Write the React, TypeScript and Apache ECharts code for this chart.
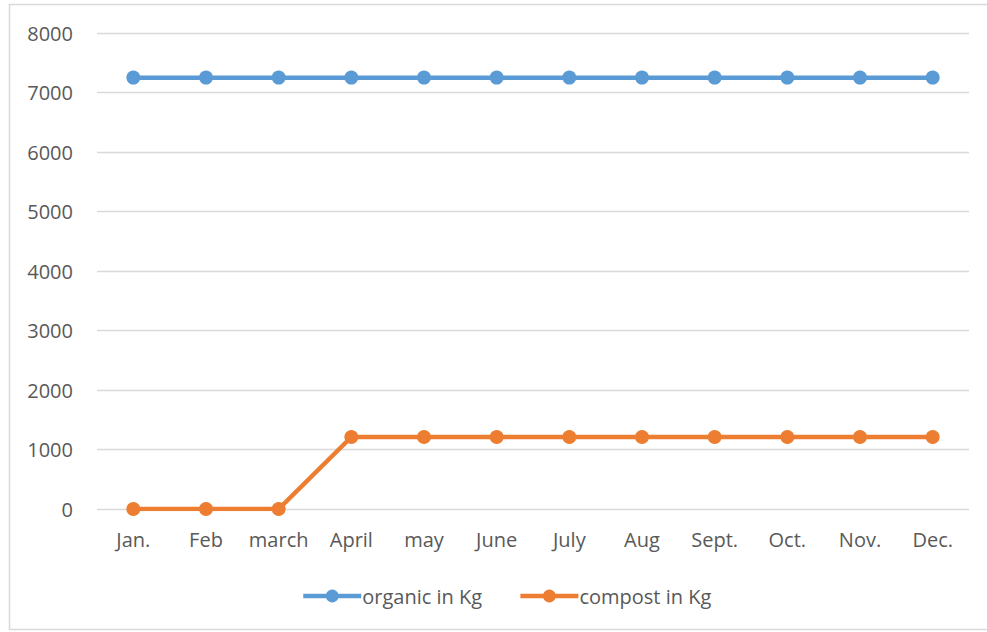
import React, { useEffect, useRef } from "react";
import * as echarts from "echarts";

const months = ["Jan.", "Feb", "march", "April", "may", "June", "July", "Aug", "Sept.", "Oct.", "Nov.", "Dec."];
const organic = [7250, 7250, 7250, 7250, 7250, 7250, 7250, 7250, 7250, 7250, 7250, 7250];
const compost = [0, 0, 0, 1210, 1210, 1210, 1210, 1210, 1210, 1210, 1210, 1210];
const seriesNames = ["organic in Kg", "compost in Kg"];

const FONT = "'Open Sans', 'Noto Sans', sans-serif";
const TEXT = "#595959";

export default function App() {
  const ref = useRef<HTMLDivElement>(null);
  useEffect(() => {
    if (!ref.current) return;
    const chart = echarts.init(ref.current, undefined, { renderer: "svg" });
    chart.setOption({
      animation: false,
      backgroundColor: "#ffffff",
      graphic: [
        {
          type: "rect",
          shape: { x: 9.5, y: 4.5, width: 1000, height: 625 },
          style: { fill: "none", stroke: "#D9D9D9", lineWidth: 1.5 },
          silent: true,
        },
      ],
      grid: { left: 97, right: 18, top: 33, bottom: 123 },
      xAxis: {
        type: "category",
        data: months,
        boundaryGap: true,
        axisLine: { show: false },
        axisTick: { show: false },
        axisLabel: { color: TEXT, fontFamily: FONT, fontSize: 20, margin: 20, interval: 0 },
      },
      yAxis: {
        type: "value",
        min: 0,
        max: 8000,
        interval: 1000,
        axisLine: { show: false },
        axisTick: { show: false },
        axisLabel: {
          color: TEXT,
          fontFamily: FONT,
          fontSize: 20,
          margin: 24,
          formatter: (v: number) => String(v),
        },
        splitLine: { lineStyle: { color: "#D9D9D9", width: 1.3 } },
      },
      legend: {
        bottom: 21,
        left: 296,
        padding: 5,
        itemWidth: 58,
        itemHeight: 16,
        itemGap: 36,
        lineStyle: { width: 4.5 },
        textStyle: { color: TEXT, fontFamily: FONT, fontSize: 20, padding: [0, 0, 0, -4] },
        data: seriesNames,
      },
      series: [
        {
          name: seriesNames[0],
          type: "line",
          data: organic,
          color: "#5B9BD5",
          symbol: "circle",
          symbolSize: 14,
          lineStyle: { width: 4.5, color: "#5B9BD5" },
          itemStyle: { color: "#5B9BD5" },
        },
        {
          name: seriesNames[1],
          type: "line",
          data: compost,
          color: "#ED7D31",
          symbol: "circle",
          symbolSize: 14,
          lineStyle: { width: 4.5, color: "#ED7D31" },
          itemStyle: { color: "#ED7D31" },
        },
      ],
    });
    return () => chart.dispose();
  }, []);
  return (
    <div
      ref={ref}
      style={{ position: "fixed", left: 0, top: 0, width: 987, height: 632 }}
    />
  );
}
